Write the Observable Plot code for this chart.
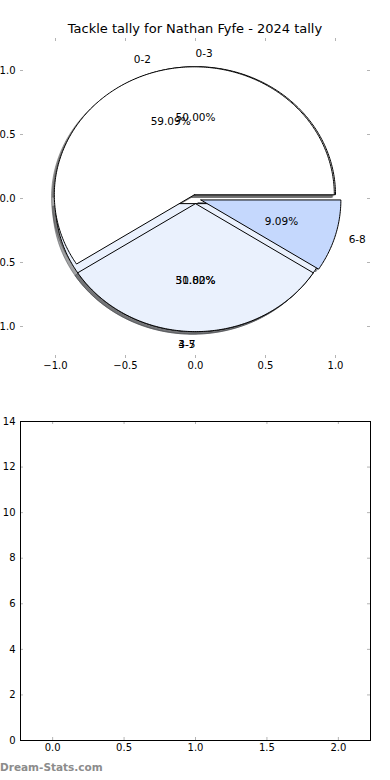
<!DOCTYPE html>
<html><head><meta charset="utf-8">
<script src="https://cdn.jsdelivr.net/npm/d3@7"></script>
<script src="https://cdn.jsdelivr.net/npm/@observablehq/plot@0.6"></script>
<style>
html,body{margin:0;padding:0;background:#fff;}
#wrap{position:relative;width:390px;height:780px;overflow:hidden;font-family:"DejaVu Sans",sans-serif;}
#title{position:absolute;left:0;width:390px;top:21px;text-align:center;font-size:13px;line-height:15px;color:#000;white-space:nowrap;}
#top{position:absolute;left:0;top:0;}
#bottom{position:absolute;left:0;top:400px;}
#mark{position:absolute;left:0;top:761px;font-size:10.5px;line-height:12px;font-weight:bold;color:#8c8c8c;white-space:nowrap;}
</style></head><body>
<div id="wrap"><div id="top"></div><div id="bottom"></div><div id="title"></div><div id="mark"></div></div>
<script>
const titleText = "Tackle tally for Nathan Fyfe - 2024 tally";
const watermark = "Dream-Stats.com";
const pie1Labels = ["0-3", "4-7"];
const pie1Values = [11, 11];
const pie2Labels = ["0-2", "3-5", "6-8"];
const pie2Values = [13, 7, 2];
const pieXTicks = [-1, -0.5, 0, 0.5, 1];
const pieYTicks = [-1, -0.5, 0, 0.5, 1];
const barXTicks = [0, 0.5, 1, 1.5, 2];
const barYTicks = [0, 2, 4, 6, 8, 10, 12, 14];

// styling
const pie1Explode = [0.03, 0.04];
const pie2Explode = [0.03, 0.04, 0.04];
const pie1Colors = ["#ffffff", "#eaf1fd"];
const pie2Colors = ["#ffffff", "#eaf1fd", "#c5d8fd"];
const tickGray = "#b4b4b4";
const font = "DejaVu Sans";

document.getElementById("title").textContent = titleText;
document.getElementById("mark").textContent = watermark;

function wedges(labels, values, explode, colors) {
  const total = d3.sum(values);
  let t1 = 0;
  return values.map((v, i) => {
    const t2 = t1 + v / total;
    const a1 = 2 * Math.PI * t1, a2 = 2 * Math.PI * t2, am = Math.PI * (t1 + t2);
    const cx = explode[i] * Math.cos(am), cy = explode[i] * Math.sin(am);
    const n = Math.max(4, Math.ceil((a2 - a1) / (Math.PI / 240)));
    const pts = [{x: cx, y: cy}];
    for (let k = 0; k <= n; k++) {
      const a = a1 + (a2 - a1) * k / n;
      pts.push({x: cx + Math.cos(a), y: cy + Math.sin(a)});
    }
    pts.push({x: cx, y: cy});
    t1 = t2;
    const lx = cx + 1.1 * Math.cos(am), ly = cy + 1.1 * Math.sin(am);
    return {
      label: labels[i], pct: (100 * v / total).toFixed(2) + "%", color: colors[i], pts,
      lx, ly, anchor: lx > 0 ? "start" : "end",
      px: cx + 0.6 * Math.cos(am), py: cy + 0.6 * Math.sin(am)
    };
  });
}

const w1 = wedges(pie1Labels, pie1Values, pie1Explode, pie1Colors);
const w2 = wedges(pie2Labels, pie2Values, pie2Explode, pie2Colors);
const all = [...w1, ...w2];

const shadowMarks = all.map(w => {
  const c = d3.rgb(w.color);
  const sc = d3.rgb(c.r * 0.3, c.g * 0.3, c.b * 0.3).formatHex();
  return Plot.line(w.pts.map(p => ({x: p.x - 0.02, y: p.y - 0.02})), {
    x: "x", y: "y", curve: "linear", fill: sc, fillOpacity: 0.5, stroke: sc, strokeOpacity: 0.5, strokeWidth: 1, strokeLinejoin: "miter"
  });
});
const wedgeMarks = all.map(w => Plot.line(w.pts, {
  x: "x", y: "y", curve: "linear", fill: w.color, stroke: "#000", strokeWidth: 1, strokeLinejoin: "miter"
}));
const labelMarks = all.map(w => Plot.text([w], {x: "lx", y: "ly", text: "label", textAnchor: w.anchor, fontSize: 10.5, fill: "#000"}));
const pctMarks = all.map(w => Plot.text([w], {x: "px", y: "py", text: "pct", textAnchor: "middle", fontSize: 10.5, fill: "#000"}));

const fmt1 = d3.format(".1f");
const topH = 380, topMT = 38, topMB = 22, topML = 20, topMR = 20;
const topIH = topH - topMT - topMB, topIW = 390 - topML - topMR;
const tk = 3;

const topPlot = Plot.plot({
  width: 390, height: topH,
  marginTop: topMT, marginBottom: topMB, marginLeft: topML, marginRight: topMR,
  x: {domain: [-1.25, 1.25]},
  y: {domain: [-1.25, 1.25]},
  style: {fontFamily: font, fontSize: "10px", background: "transparent", color: "#000", overflow: "visible"},
  marks: [
    ...shadowMarks,
    ...wedgeMarks,
    ...labelMarks,
    ...pctMarks,
    Plot.ruleX(pieXTicks, {x: d => d, stroke: tickGray, insetBottom: topIH - tk}),
    Plot.ruleX(pieXTicks, {x: d => d, stroke: tickGray, insetTop: topIH - tk}),
    Plot.ruleY(pieYTicks, {y: d => d, stroke: tickGray, insetRight: topIW - tk}),
    Plot.ruleY(pieYTicks, {y: d => d, stroke: tickGray, insetLeft: topIW - tk}),
    Plot.axisX(pieXTicks, {anchor: "bottom", tickSize: 0, tickPadding: 3, tickFormat: fmt1, label: null, fontSize: 10}),
    Plot.axisY(pieYTicks, {anchor: "left", tickSize: 0, tickPadding: 5, tickFormat: fmt1, label: null, fontSize: 10})
  ]
});
document.getElementById("top").appendChild(topPlot);

const botH = 380, botMT = 21, botMB = 40, botML = 20, botMR = 20;
const botIH = botH - botMT - botMB, botIW = 390 - botML - botMR;
const botPlot = Plot.plot({
  width: 390, height: botH,
  marginTop: botMT, marginBottom: botMB, marginLeft: botML, marginRight: botMR,
  x: {domain: [-0.225, 2.225]},
  y: {domain: [0, 14]},
  style: {fontFamily: font, fontSize: "10px", background: "transparent", color: "#000", overflow: "visible"},
  marks: [
    Plot.ruleX(barXTicks, {x: d => d, stroke: tickGray, insetBottom: botIH - tk}),
    Plot.ruleX(barXTicks, {x: d => d, stroke: tickGray, insetTop: botIH - tk}),
    Plot.ruleY(barYTicks, {y: d => d, stroke: tickGray, insetRight: botIW - tk}),
    Plot.ruleY(barYTicks, {y: d => d, stroke: tickGray, insetLeft: botIW - tk}),
    Plot.frame({stroke: "#000", strokeWidth: 1}),
    Plot.axisX(barXTicks, {anchor: "bottom", tickSize: 0, tickPadding: 3, tickFormat: fmt1, label: null, fontSize: 10}),
    Plot.axisY(barYTicks, {anchor: "left", tickSize: 0, tickPadding: 5, tickFormat: d3.format("d"), label: null, fontSize: 10})
  ]
});
document.getElementById("bottom").appendChild(botPlot);
</script>
</body></html>
